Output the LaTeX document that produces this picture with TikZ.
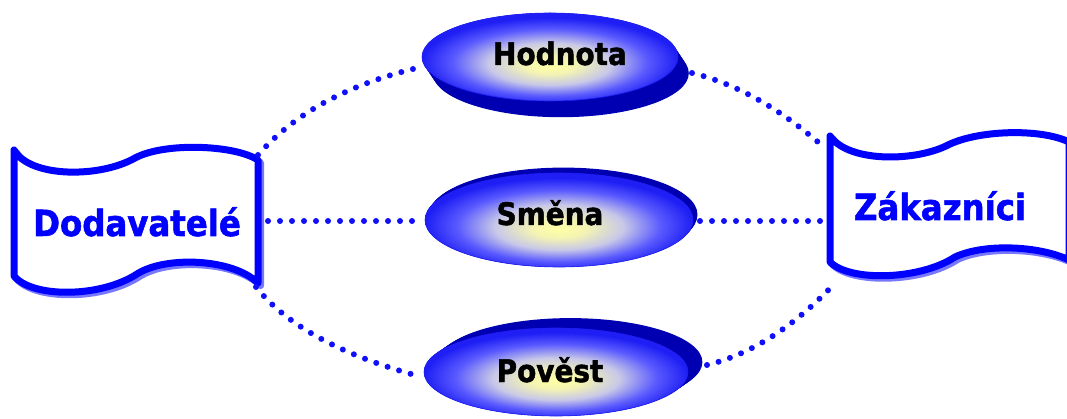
\documentclass[tikz,border=0pt]{standalone}
\usepackage{fontspec}
\setmainfont{DejaVu Sans}
\newfontfamily\tahomaish[FakeStretch=0.9, BoldFeatures={FakeBold=1.5}]{DejaVu Sans}
\usetikzlibrary{shapes.geometric}
\definecolor{dotblue}{RGB}{15,15,250}
\definecolor{flagblue}{RGB}{0,0,255}
\definecolor{flagshade}{RGB}{120,120,255}
\definecolor{navythree}{RGB}{0,0,178}
\definecolor{eggA}{RGB}{255,255,165}
\definecolor{eggB}{RGB}{200,200,232}
\definecolor{eggC}{RGB}{90,90,255}
\definecolor{eggD}{RGB}{30,30,245}
\pgfdeclareradialshading{eggshade}{\pgfpoint{0bp}{-5bp}}{color(0bp)=(eggA); color(5bp)=(eggA!80!eggB); color(12bp)=(eggB); color(19bp)=(eggC); color(25bp)=(eggD); color(50bp)=(eggD)}
\newcommand\eggbase[6]{\foreach \t in {0,0.1,...,1.0}{\fill[navythree] ({#1+\t*#5},{#2+\t*#6}) ellipse [x radius=#3pt, y radius=#4pt];}}
\newcommand\leftflagpath{(14,150) .. controls (30,178) and (100,178) .. (135,158) .. controls (165,142) and (235,145) .. (258,160) -- (258,283) .. controls (232,258) and (165,256) .. (137,274) .. controls (100,298) and (32,298) .. (14,276) -- cycle}
\newcommand\rightflagpath{(830,136) .. controls (848,162) and (912,162) .. (946,146) .. controls (976,130) and (1040,128) .. (1069,142) -- (1069,260) .. controls (1040,246) and (985,243) .. (955,257) .. controls (920,280) and (850,282) .. (830,262) -- cycle}
\tikzset{
  eggface/.style={ellipse, shading=eggshade, inner sep=0pt, draw=eggD, line width=0.6pt},
  eggtext/.style={anchor=base, inner sep=0pt, font=\tahomaish\bfseries\fontsize{31}{31}\selectfont, text=black},
  flagtext/.style={anchor=base, inner sep=0pt, font=\tahomaish\bfseries\fontsize{36}{36}\selectfont, text=flagblue},
  flagline/.style={draw=flagblue, line width=7pt, fill=white, line join=round},
  flagshadow/.style={draw=flagshade, line width=7pt, line join=round},
  dotline/.style={draw=dotblue, line width=6pt, dash pattern=on 0pt off 12pt, line cap=round}
}
\begin{document}
\begin{tikzpicture}[x=1pt,y=-1pt]
\useasboundingbox (0,0) rectangle (1067,419);
% flags
\draw[flagshadow, shift={(2.5,2.5)}] \leftflagpath;
\draw[flagline] \leftflagpath;
\draw[flagshadow, shift={(2.5,2.5)}] \rightflagpath;
\draw[flagline] \rightflagpath;
\node[flagtext] (dod) at (137,236) {Dodavatelé};
\node[flagtext] (zak) at (940,220) {Zákazníci};
% ellipses
\eggbase{550}{57}{128}{44}{12}{18}
\node[eggface, minimum width=256pt, minimum height=88pt] (hod) at (550,57) {};
\node[eggtext] (hodt) at (560,65) {Hodnota};
\eggbase{559}{220}{134}{47}{5}{-6}
\node[eggface, minimum width=268pt, minimum height=94pt] (sme) at (559,220) {};
\node[eggtext] (smet) at (550,225) {Směna};
\eggbase{556}{372}{132}{44}{16}{-11}
\node[eggface, minimum width=264pt, minimum height=88pt] (pov) at (556,372) {};
\node[eggtext] (povt) at (550,382) {Pověst};
% connector ends
\coordinate (dodNE) at (258,155);
\coordinate (dodE) at (268,221);
\coordinate (dodSE) at (256,287);
\coordinate (hodW) at (413,69);
\coordinate (hodE) at (692,73);
\coordinate (smeW) at (414,221);
\coordinate (smeE) at (700,221);
\coordinate (povW) at (422,377);
\coordinate (povE) at (707,365);
\coordinate (zakNW) at (826,149);
\coordinate (zakW) at (826,221);
\coordinate (zakSW) at (836,282);
% connectors
\draw[dotline] (dodNE) .. controls (294,114) and (345,86) .. (hodW);
\draw[dotline] (dodE) -- (smeW);
\draw[dotline] (dodSE) .. controls (287,326) and (343,356) .. (povW);
\draw[dotline] (hodE) .. controls (737,84) and (781,109) .. (zakNW);
\draw[dotline] (smeE) -- (zakW);
\draw[dotline] (povE) .. controls (752,354) and (795,326) .. (zakSW);
\end{tikzpicture}
\end{document}
